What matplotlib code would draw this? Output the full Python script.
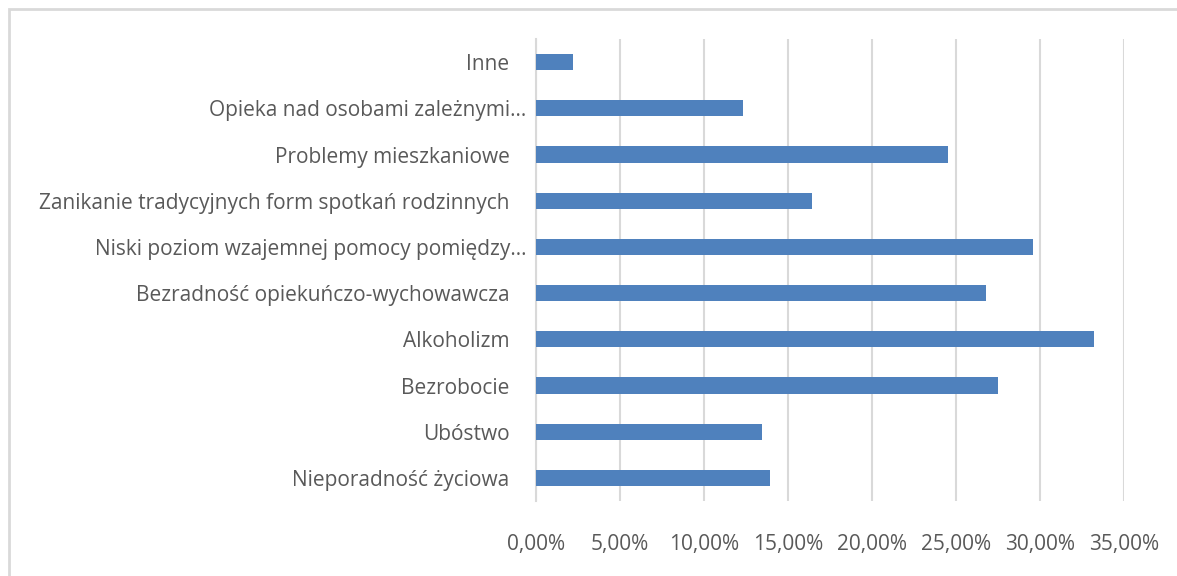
import numpy as np
import matplotlib.pyplot as plt
import matplotlib.transforms as mtransforms
from matplotlib.patches import Rectangle

categories = ["Nieporadność życiowa", "Ubóstwo", "Bezrobocie", "Alkoholizm",
              "Bezradność opiekuńczo-wychowawcza",
              "Niski poziom wzajemnej pomocy pomiędzy…",
              "Zanikanie tradycyjnych form spotkań rodzinnych",
              "Problemy mieszkaniowe", "Opieka nad osobami zależnymi…", "Inne"]
values = [13.9, 13.45, 27.5, 33.2, 26.8, 29.6, 16.4, 24.5, 12.3, 2.2]
xticks = [0, 5, 10, 15, 20, 25, 30, 35]
xticklabels = ["0,00%", "5,00%", "10,00%", "15,00%", "20,00%", "25,00%", "30,00%", "35,00%"]

plt.rcParams['font.family'] = ['Open Sans', 'DejaVu Sans']
fig = plt.figure(figsize=(11.77, 5.76), dpi=100)
ax = fig.add_axes([536/1177, 75/576, 588/1177, 462/576])

y = np.arange(len(categories))
ax.barh(y, values, height=0.35, color="#4f81bd", zorder=3)
ax.set_xlim(0, 35)
ax.set_ylim(-0.5, len(categories) - 0.5)
ax.set_yticks(y)
ax.set_yticklabels(categories, fontsize=15, color="#595959")
ax.set_xticks(xticks)
ax.set_xticklabels(xticklabels, fontsize=15, color="#595959")
ax.tick_params(axis="y", length=0, pad=19)
ax.tick_params(axis="x", length=0, pad=24)
ax.grid(axis="x", color="#d9d9d9", linewidth=1.5, zorder=0)
for s in ["top", "right", "bottom"]:
    ax.spines[s].set_visible(False)
ax.spines["left"].set_color("#d9d9d9")
ax.spines["left"].set_linewidth(1.5)

# truncated labels run a bit further right, as in the original
shift = mtransforms.ScaledTranslation(17/100, 0, fig.dpi_scale_trans)
for lab in ax.get_yticklabels():
    if lab.get_text().endswith("…"):
        lab.set_transform(lab.get_transform() + shift)

fig.patches.append(Rectangle((9/1177, -0.1), 1.2, 1 - 9/576 + 0.1, transform=fig.transFigure,
                             fill=False, edgecolor="#d9d9d9", linewidth=2))

fig.savefig("out.png", dpi=100)
